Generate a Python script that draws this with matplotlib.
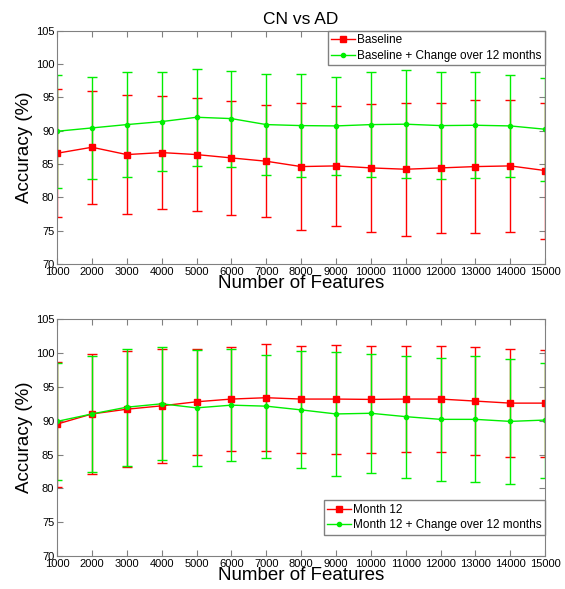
import numpy as np
import matplotlib
matplotlib.use('Agg')
import matplotlib.pyplot as plt

plt.rcParams['font.family'] = ['Liberation Sans', 'DejaVu Sans']

n_features = [1000, 2000, 3000, 4000, 5000, 6000, 7000, 8000,
              9000, 10000, 11000, 12000, 13000, 14000, 15000]

# CN vs AD - baseline models
baseline_mean = [86.6, 87.5, 86.4, 86.7, 86.4, 85.9, 85.4, 84.6,
                 84.7, 84.4, 84.2, 84.4, 84.6, 84.7, 84.0]
baseline_err = [9.6, 8.5, 8.9, 8.5, 8.5, 8.6, 8.4, 9.5,
                9.0, 9.6, 10.0, 9.8, 10.0, 9.9, 10.2]
baseline_chg_mean = [89.9, 90.4, 90.9, 91.35, 92.0, 91.8, 90.9, 90.75,
                     90.7, 90.9, 90.96, 90.75, 90.8, 90.7, 90.2]
baseline_chg_err = [8.5, 7.7, 7.9, 7.45, 7.3, 7.2, 7.6, 7.7,
                    7.4, 7.9, 8.1, 8.05, 7.95, 7.7, 7.7]

# month 12 models
month12_mean = [89.5, 91.0, 91.7, 92.2, 92.8, 93.2, 93.4, 93.2,
                93.2, 93.15, 93.2, 93.2, 92.9, 92.6, 92.6]
month12_err = [9.25, 8.9, 8.6, 8.4, 7.8, 7.7, 7.9, 7.9,
               8.05, 7.95, 7.8, 7.8, 7.95, 7.95, 7.9]
month12_chg_mean = [89.9, 91.0, 92.0, 92.5, 91.9, 92.3, 92.15, 91.6,
                    91.0, 91.1, 90.6, 90.2, 90.2, 89.9, 90.1]
month12_chg_err = [8.7, 8.6, 8.65, 8.35, 8.6, 8.25, 7.6, 8.65,
                   9.2, 8.8, 9.0, 9.1, 9.3, 9.2, 8.5]

red = '#ff0000'
green = '#00ee00'

fig = plt.figure(figsize=(5.65, 5.89), dpi=100)
ax1 = fig.add_axes([0.101, 0.552, 0.864, 0.396])
ax2 = fig.add_axes([0.101, 0.056, 0.864, 0.402])


def draw(ax, m1, e1, m2, e2, lab1, lab2, loc, anchor):
    c1 = ax.errorbar(n_features, m1, yerr=e1, color=red, marker='s', ms=4,
                     lw=1.0, elinewidth=1.0, capsize=3.5, capthick=1.0)
    c2 = ax.errorbar(n_features, m2, yerr=e2, color=green, marker='o', ms=3,
                     lw=1.0, elinewidth=1.0, capsize=3.5, capthick=1.0)
    ax.set_xlim(1000, 15000)
    ax.set_ylim(70, 105)
    ax.set_xticks(n_features)
    ax.set_yticks(np.arange(70, 106, 5))
    ax.tick_params(direction='in', length=4, top=True, right=True,
                   labelsize=8, color='#808080', pad=2)
    for s in ax.spines.values():
        s.set_color('#808080')
    ax.set_xlabel('Number of Features', fontsize=13.5, labelpad=-1)
    ax.set_ylabel('Accuracy (%)', fontsize=13.5, labelpad=2)
    leg = ax.legend([c1[0], c2[0]], [lab1, lab2], loc=loc,
                    bbox_to_anchor=anchor, fontsize=8.5,
                    fancybox=False, handlelength=2.0, borderpad=0.3,
                    labelspacing=0.3, handletextpad=0.2, borderaxespad=0.0)
    leg.get_frame().set_edgecolor('#808080')
    leg.get_frame().set_alpha(1)


draw(ax1, baseline_mean, baseline_err, baseline_chg_mean, baseline_chg_err,
     'Baseline', 'Baseline + Change over 12 months', 'upper right', (1, 1))
ax1.set_title('CN vs AD', fontsize=12.5, pad=5)

draw(ax2, month12_mean, month12_err, month12_chg_mean, month12_chg_err,
     'Month 12', 'Month 12 + Change over 12 months', 'lower right',
     (1, 0.089))

plt.savefig('out.png', dpi=100)
